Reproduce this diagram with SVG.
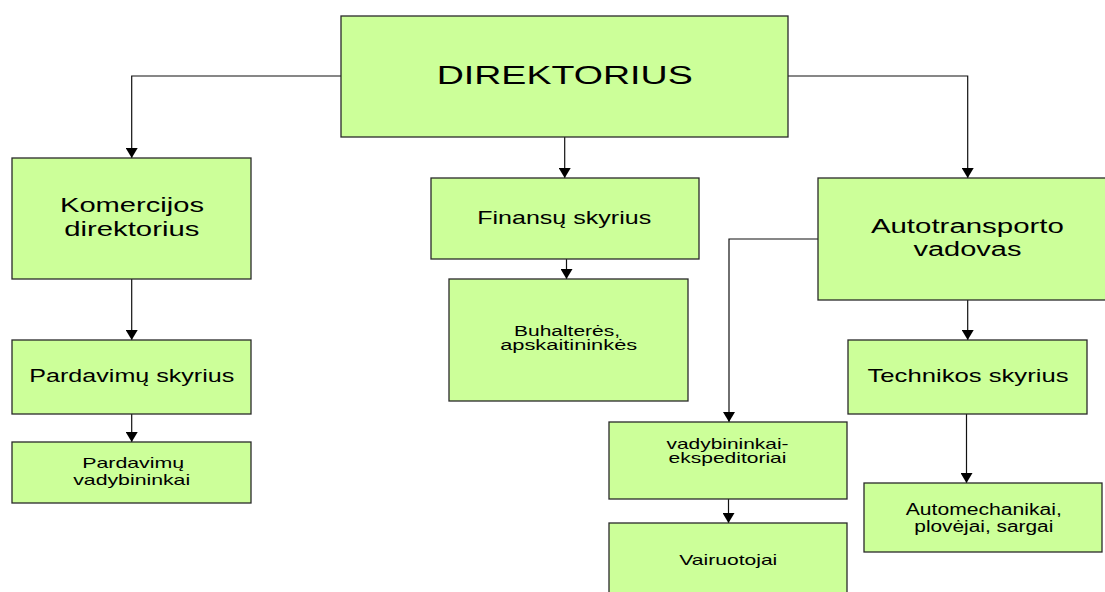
<svg xmlns="http://www.w3.org/2000/svg" width="1105" height="592" viewBox="0 0 1105 592">
<style>
.box{fill:#CCFF99;stroke:#2a2a2a;stroke-width:1.3}
.t{font-family:"Liberation Sans",Arial,sans-serif;fill:#000;text-anchor:middle}
.c{fill:none;stroke:#111;stroke-width:1.2;marker-end:url(#arr)}
</style>
<defs>
<marker id="arr" viewBox="0 0 10 12" refX="10" refY="6" markerWidth="10" markerHeight="12" orient="auto" markerUnits="userSpaceOnUse">
<path d="M0,0 L10,6 L0,12 z" fill="#000"/>
</marker>
</defs>
<rect width="1105" height="592" fill="#fff"/>
<g id="connectors">
<path class="c" d="M341,76 H131.7 V158"/>
<path class="c" d="M564.7,137 V178"/>
<path class="c" d="M788,76 H967.7 V178"/>
<path class="c" d="M131.7,279 V340"/>
<path class="c" d="M131.7,414 V442"/>
<path class="c" d="M566.5,259 V279"/>
<path class="c" d="M818,239 H729 V422"/>
<path class="c" d="M967.7,300 V340"/>
<path class="c" d="M966.5,414 V483"/>
<path class="c" d="M728.5,499 V523"/>
</g>
<g id="direktorius">
<rect class="box" x="341" y="16" width="447" height="121"/>
<text class="t" x="564.7" y="84" font-size="26.5" textLength="256" lengthAdjust="spacingAndGlyphs">DIREKTORIUS</text>
</g>
<g id="komercijos">
<rect class="box" x="12" y="158" width="239" height="121"/>
<text class="t" x="132" y="212" font-size="19.5" textLength="144" lengthAdjust="spacingAndGlyphs">Komercijos</text>
<text class="t" x="131.8" y="236" font-size="19.5" textLength="135" lengthAdjust="spacingAndGlyphs">direktorius</text>
</g>
<g id="finansu">
<rect class="box" x="431" y="178" width="268" height="81"/>
<text class="t" x="564.2" y="224" font-size="18.5" textLength="174" lengthAdjust="spacingAndGlyphs">Finansų skyrius</text>
</g>
<g id="buhalteres">
<rect class="box" x="449" y="279" width="239" height="122"/>
<text class="t" x="567" y="336" font-size="14" textLength="106" lengthAdjust="spacingAndGlyphs">Buhalterės,</text>
<text class="t" x="568.7" y="350" font-size="14" textLength="137" lengthAdjust="spacingAndGlyphs">apskaitininkės</text>
</g>
<g id="autotransporto">
<rect class="box" x="818" y="178" width="298" height="122"/>
<text class="t" x="967.4" y="233" font-size="20" textLength="193" lengthAdjust="spacingAndGlyphs">Autotransporto</text>
<text class="t" x="967.5" y="256" font-size="20" textLength="108" lengthAdjust="spacingAndGlyphs">vadovas</text>
</g>
<g id="pardavimu-skyrius">
<rect class="box" x="12" y="340" width="239" height="74"/>
<text class="t" x="131.8" y="382" font-size="17.5" textLength="205" lengthAdjust="spacingAndGlyphs">Pardavimų skyrius</text>
</g>
<g id="pardavimu-vadybininkai">
<rect class="box" x="12" y="442" width="239" height="61"/>
<text class="t" x="133.2" y="468" font-size="14.5" textLength="102" lengthAdjust="spacingAndGlyphs">Pardavimų</text>
<text class="t" x="131.7" y="485" font-size="14.5" textLength="117" lengthAdjust="spacingAndGlyphs">vadybininkai</text>
</g>
<g id="technikos">
<rect class="box" x="848" y="340" width="239" height="74"/>
<text class="t" x="968" y="382" font-size="18.5" textLength="201" lengthAdjust="spacingAndGlyphs">Technikos skyrius</text>
</g>
<g id="vadybininkai-ekspeditoriai">
<rect class="box" x="609" y="422" width="238" height="77"/>
<text class="t" x="727.5" y="448.5" font-size="14.5" textLength="122" lengthAdjust="spacingAndGlyphs">vadybininkai-</text>
<text class="t" x="727.5" y="462.5" font-size="14.5" textLength="118" lengthAdjust="spacingAndGlyphs">ekspeditoriai</text>
</g>
<g id="automechanikai">
<rect class="box" x="864" y="483" width="238" height="69"/>
<text class="t" x="983.8" y="515" font-size="16" textLength="156" lengthAdjust="spacingAndGlyphs">Automechanikai,</text>
<text class="t" x="983.8" y="532" font-size="16" textLength="139" lengthAdjust="spacingAndGlyphs">plovėjai, sargai</text>
</g>
<g id="vairuotojai">
<rect class="box" x="609" y="523" width="238" height="80"/>
<text class="t" x="728.3" y="565" font-size="14.5" textLength="98" lengthAdjust="spacingAndGlyphs">Vairuotojai</text>
</g>
</svg>
